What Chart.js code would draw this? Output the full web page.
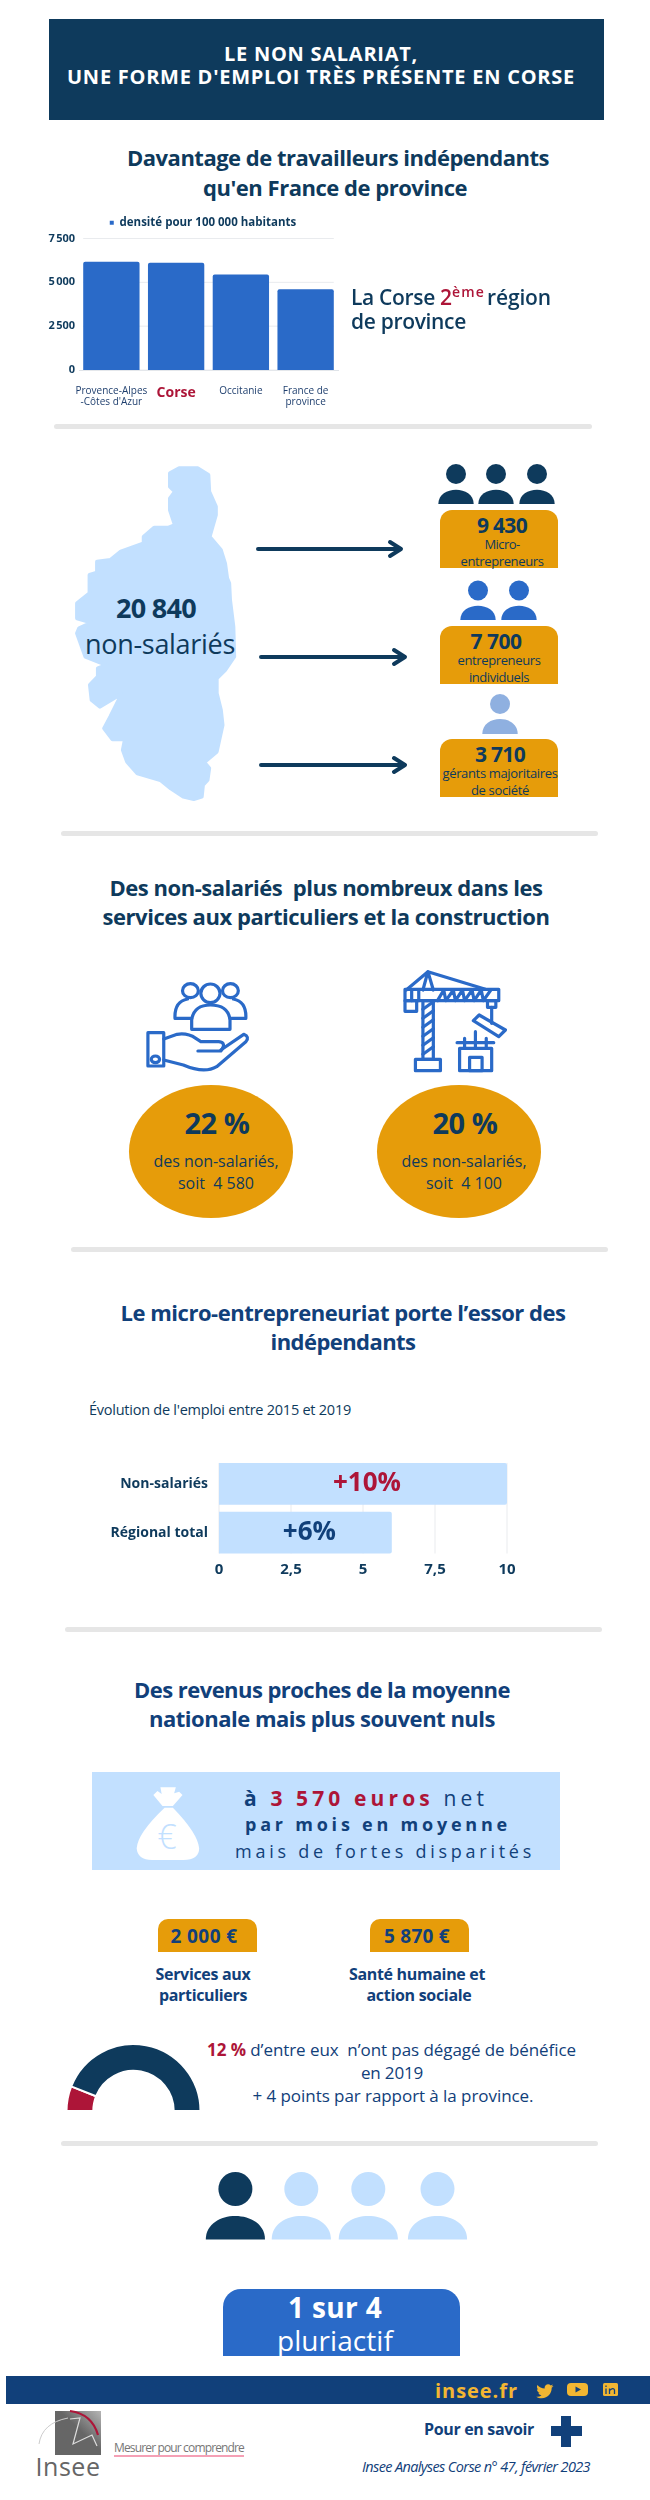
<!DOCTYPE html>
<html lang="fr">
<head>
<meta charset="utf-8">
<title>Le non salariat en Corse</title>
<script src="https://cdn.jsdelivr.net/npm/chart.js@4"></script>
<style>
    html, body { margin: 0; background: #fff; }
    #page { position: relative; width: 650px; height: 2500px; overflow: hidden; font-family: "Open Sans", sans-serif; }
    #page canvas, #shapes, .box, .txt { position: absolute; }
    #shapes { left: 0; top: 0; }
    .txt { white-space: pre; line-height: 1; }
</style>
</head>
<body>
<div id="page">
    <svg id="shapes" width="650" height="2500" viewBox="0 0 650 2500"></svg>
    <canvas id="chart-densite"></canvas>
    <canvas id="chart-evolution"></canvas>
    <canvas id="chart-benefice"></canvas>
</div>
<script>
// density chart
const densiteRegions = [["Provence-Alpes", "-Côtes d'Azur"], "Corse", "Occitanie", ["France de", "province"]];
const densiteValeurs = [6170, 6115, 5440, 4600];
const densiteTicks = [0, 2500, 5000, 7500];
const densiteTickLabels = ["0", "2\u202f500", "5\u202f000", "7\u202f500"];
const densiteLegende = "densité pour 100 000 habitants";

// employment chart
const evolutionCategories = ["Non-salariés", "Régional total"];
const evolutionValeurs = [10, 6];
const evolutionEtiquettes = ["+10%", "+6%"];
const evolutionTicks = [0, 2.5, 5, 7.5, 10];
const evolutionTickLabels = ["0", "2,5", "5", "7,5", "10"];

// half ring, no profit
const beneficeParts = [12, 88];

const NAVY = "#0e3a5c";
const BLUE = "#11407a";
const MID = "#2a6ac8";
const PALE = "#c2e0ff";
const ORANGE = "#e69c0a";
const RED = "#ad1538";
const GREY = "#e6e6e6";

const page = document.getElementById("page");
const shapes = document.getElementById("shapes");

// text centred on x (or left on x), letter spacing adjusted so it fills the measured width
function txt(html, x, y, size, weight, color, width, align) {
    let el = document.createElement("div");
    el.className = "txt";
    el.innerHTML = html;
    el.style.fontSize = size + "px";
    el.style.fontWeight = weight;
    el.style.color = color;
    page.appendChild(el);
    if (width) {
        let count = el.textContent.length;
        el.style.letterSpacing = ((width - el.getBoundingClientRect().width) / count) + "px";
    }
    el.style.left = x + "px";
    el.style.top = y + "px";
    el.style.transform = align == "left" ? "translateY(-50%)" : "translate(-50%,-50%)";
    return el;
}

function box(x, y, w, h, color, radius) {
    let el = document.createElement("div");
    el.className = "box";
    el.style.cssText = `left:${x}px;top:${y}px;width:${w}px;height:${h}px;background:${color};border-radius:${radius || "0"}`;
    page.insertBefore(el, shapes);
}

function person(cx, headY, r, top, bottom, half, color) {
    return `<circle cx="${cx}" cy="${headY}" r="${r}" fill="${color}"/>` +
        `<path d="M${cx - half} ${bottom} C${cx - half} ${top - 2} ${cx + half} ${top - 2} ${cx + half} ${bottom}Z" fill="${color}"/>`;
}

function arrow(x1, x2, y) {
    return `<path d="M${x1} ${y}H${x2}M${x2 - 11} ${y - 7}L${x2} ${y}L${x2 - 11} ${y + 7}" fill="none" stroke="${NAVY}" stroke-width="4" stroke-linecap="round" stroke-linejoin="round"/>`;
}

// header
box(49, 19, 555, 101, NAVY);
txt("LE NON SALARIAT,", 321, 54, 20, 700, "#fff", 194);
txt("UNE FORME D'EMPLOI TRÈS PRÉSENTE EN CORSE", 321, 77, 20, 700, "#fff", 508);

// section titles and dividers
txt("Davantage de travailleurs indépendants", 338, 157, 22, 700, NAVY, 422);
txt("qu'en France de province", 335, 187, 22, 700, NAVY, 264);
txt("La Corse", 351, 297, 21, 600, NAVY, 84, "left");
txt("2", 440, 297, 21, 600, RED, 0, "left");
txt("ème", 452, 292, 14, 600, RED, 33, "left");
txt("région", 487, 297, 21, 600, NAVY, 64, "left");
txt("de province", 351, 321, 21, 600, NAVY, 115, "left");
box(54, 424, 538, 5, GREY, "3px");

// corsica block
txt("20 840", 156, 607, 27, 700, NAVY, 80);
txt("non-salariés", 160, 643, 27, 400, NAVY, 150);
box(440, 510, 118, 58, ORANGE, "12px 12px 0 0");
box(440, 626, 118, 58, ORANGE, "12px 12px 0 0");
box(440, 739, 118, 58, ORANGE, "12px 12px 0 0");
txt("9 430", 502, 525, 21, 700, NAVY, 50);
txt("Micro-", 502, 544, 13, 400, NAVY, 35);
txt("entrepreneurs", 502, 561, 13, 400, NAVY, 83);
txt("7 700", 496, 641, 21, 700, NAVY, 51);
txt("entrepreneurs", 499, 660, 13, 400, NAVY, 83);
txt("individuels", 499, 677, 13, 400, NAVY, 60);
txt("3 710", 500, 754, 21, 700, NAVY, 50);
txt("gérants majoritaires", 500, 773, 13, 400, NAVY, 115);
txt("de société", 500, 790, 13, 400, NAVY, 58);
box(61, 831, 537, 5, GREY, "3px");

// sectors
txt("Des non-salariés  plus nombreux dans les", 326, 887, 22, 700, NAVY, 433);
txt("services aux particuliers et la construction", 326, 916, 22, 700, NAVY, 447);
box(129, 1085, 164, 133, ORANGE, "50%");
box(377, 1085, 164, 133, ORANGE, "50%");
txt("22 %", 217, 1122, 29, 700, NAVY, 65);
txt("des non-salariés,", 216, 1161, 16, 400, NAVY, 125);
txt("soit  4 580", 216, 1183, 16, 400, NAVY, 76);
txt("20 %", 465, 1122, 29, 700, NAVY, 65);
txt("des non-salariés,", 464, 1161, 16, 400, NAVY, 125);
txt("soit  4 100", 464, 1183, 16, 400, NAVY, 76);
box(71, 1247, 537, 5, GREY, "3px");

// micro-entrepreneurs
txt("Le micro-entrepreneuriat porte l’essor des", 343, 1312, 22, 700, BLUE, 445);
txt("indépendants", 343, 1341, 22, 700, BLUE, 145);
txt("Évolution de l'emploi entre 2015 et 2019", 89, 1410, 14.5, 400, NAVY, 262, "left");
box(65, 1627, 537, 5, GREY, "3px");

// income
txt("Des revenus proches de la moyenne", 322, 1689, 22, 700, BLUE, 376);
txt("nationale mais plus souvent nuls", 322, 1718, 22, 700, BLUE, 346);
box(92, 1772, 468, 98, PALE);
txt(`à <span style="color:${RED}">3 570 euros</span> <span style="font-weight:400">net</span>`, 244, 1798, 21, 700, BLUE, 244, "left");
txt("par mois en moyenne", 245, 1824, 18, 700, BLUE, 266, "left");
txt("mais de fortes disparités", 235, 1851, 18, 400, BLUE, 300, "left");
txt("€", 167, 1836, 34, 300, PALE);
box(158, 1919, 99, 33, ORANGE, "10px 10px 0 0");
box(370, 1919, 99, 33, ORANGE, "10px 10px 0 0");
txt("2 000 €", 204, 1936, 19, 700, BLUE, 67);
txt("5 870 €", 417, 1936, 19, 700, BLUE, 66);
txt("Services aux", 203, 1974, 16, 700, BLUE, 95);
txt("particuliers", 203, 1995, 16, 700, BLUE, 88);
txt("Santé humaine et", 417, 1974, 16, 700, BLUE, 136);
txt("action sociale", 419, 1995, 16, 700, BLUE, 105);
txt(`<span style="color:${RED};font-weight:700">12 %</span> d’entre eux  n’ont pas dégagé de bénéfice`, 207, 2049, 17, 400, BLUE, 369, "left");
txt("en 2019", 392, 2072, 17, 400, BLUE, 62);
txt("+ 4 points par rapport à la province.", 393, 2095, 17, 400, BLUE, 281);
box(61, 2141, 537, 5, GREY, "3px");

// pluriactive
box(223, 2289, 237, 67, MID, "18px 18px 0 0");
txt("1 sur 4", 335, 2307, 28, 700, "#fff", 94);
txt("pluriactif", 335, 2340, 28, 400, "#fff", 116);

// footer
box(6, 2376, 644, 28, BLUE);
txt("insee.fr", 435, 2391, 20, 700, "#f2b632", 83, "left");
txt("Insee", 68, 2466, 25, 400, "#666", 65);
txt("Mesurer pour comprendre", 114, 2448, 12, 400, "#777", 130, "left");
box(114, 2455, 130, 1.5, "#f5a0b5");
txt("Pour en savoir", 424, 2429, 16, 700, BLUE, 110, "left");
box(561, 2416, 10, 31, BLUE);
box(551, 2426, 31, 10, BLUE);
txt("Insee Analyses Corse n° 47, février 2023", 362, 2467, 14.5, 400, BLUE, 244, "left").style.fontStyle = "italic";

// illustrations, first group of shapes in zoom coordinates (x / 2.4, y / 3)
const scaled = (off, body) => `<g transform="translate(0 ${off}) scale(.41667 .33333)">${body}</g>`;
const line = `fill="none" stroke="${MID}" stroke-width="3.2" vector-effect="non-scaling-stroke" stroke-linejoin="round" stroke-linecap="round"`;
const vline = `vector-effect="non-scaling-stroke"`;
let svg = "";

svg += scaled(430, `<polygon fill="${PALE}" stroke="${PALE}" stroke-width="4" stroke-linejoin="round" ${vline} points="430,115 475,115 500,135 502,185 518,230 518,255 503,320 530,360 540,400 545,445 550,460 552,510 560,590 562,680 540,720 520,745 520,790 530,840 534,885 520,965 490,997 502,1015 498,1050 487,1065 484,1100 465,1107 440,1100 410,1075 385,1050 330,1030 305,995 295,960 300,928 270,928 250,895 265,860 285,810 290,792 240,830 220,810 216,765 235,740 235,715 255,705 205,680 185,610 190,595 220,578 185,565 185,520 215,490 215,435 233,428 233,395 265,390 290,365 345,340 345,320 370,293 405,293 420,285 408,240 408,205 420,185 408,170 408,130"/>`);
svg += arrow(258, 401, 549) + arrow(261, 405, 657) + arrow(261, 405, 765);
[456, 496, 537].forEach(x => svg += person(x, 474, 10, 487, 504, 17.7, NAVY));
[478, 519].forEach(x => svg += person(x, 590.5, 10, 603, 620, 17.7, MID));
svg += person(500, 704, 10, 716, 734, 17.7, "#8fb0e0");
[235.4, 301.3, 368.3, 437.5].forEach((x, i) => svg += person(x, 2189, 17, 2210, 2239.5, 29.6, i == 0 ? NAVY : PALE));

// hand and people
svg += scaled(850, `<g ${line}>
    <rect x="355" y="548" width="38" height="100" ${vline}/>
    <ellipse cx="373" cy="628" rx="10" ry="10" ${vline}/>
    <path ${vline} d="M393 567L425 553Q450 548 470 565L482 575H525Q545 578 530 603H475"/>
    <path ${vline} d="M393 630L440 645Q490 672 520 650L590 575Q600 560 585 553L530 600"/>
    <ellipse cx="505" cy="430" rx="23" ry="28" ${vline}/>
    <ellipse cx="457" cy="422" rx="19" ry="21" ${vline}/>
    <ellipse cx="553" cy="422" rx="19" ry="21" ${vline}/>
    <path ${vline} d="M460 538V510Q465 465 505 465Q548 465 552 510V538Z"/>
    <path ${vline} d="M460 505H420Q418 455 450 447M552 505H590Q592 455 560 447"/>
</g>`);
// crane
svg += scaled(850, `<g ${line}>
    <path ${vline} d="M975 420L1027 365L1165 418M1027 365L1040 420M1027 365L1015 420"/>
    <rect x="972" y="418" width="225" height="34" ${vline}/>
    <rect x="1015" y="452" width="25" height="176" ${vline}/>
    <rect x="997" y="628" width="60" height="34" ${vline}/>
    <rect x="972" y="452" width="28" height="32" ${vline}/>
    <path ${vline} d="M988 420V452M1005 420V452M1050 452L1065 420L1070 452L1088 420L1093 452L1110 420L1115 452L1133 420L1138 452L1155 420L1160 452L1178 420"/>
    <path ${vline} d="M1015 478L1040 455M1015 505L1040 482M1015 532L1040 509M1015 559L1040 536M1015 586L1040 563M1015 613L1040 590"/>
    <rect x="1170" y="452" width="20" height="20" ${vline}/>
    <path ${vline} d="M1180 472V520"/>
    <path ${vline} d="M1150 495L1213 540L1197 560L1136 512Z"/>
    <rect x="1103" y="595" width="77" height="67" ${vline}/>
    <rect x="1127" y="622" width="30" height="40" ${vline}/>
    <path ${vline} d="M1097 578H1185M1115 565V595M1141 545V595M1167 565V595"/>
</g>`);
// money bag
svg += scaled(1660, `<path fill="#fff" d="M395 443Q330 520 328 565Q330 600 365 600H440Q478 600 478 565Q475 520 415 443ZM385 382H422L418 400L430 395L438 405L415 438H390L368 405L378 393L388 402Z"/>`);
// social icons
svg += `<g fill="#f2b632">
    <path transform="translate(535 2381) scale(.82)" d="M22.46 6c-.77.35-1.6.58-2.46.69.88-.53 1.56-1.37 1.88-2.38-.83.5-1.75.85-2.72 1.05C18.37 4.5 17.26 4 16 4c-2.35 0-4.27 1.92-4.27 4.29 0 .34.04.67.11.98C8.28 9.09 5.11 7.38 3 4.79c-.37.63-.58 1.37-.58 2.15 0 1.49.75 2.81 1.91 3.56-.71 0-1.37-.2-1.95-.5v.03c0 2.08 1.48 3.82 3.44 4.21a4.22 4.22 0 0 1-1.93.07 4.28 4.28 0 0 0 4 2.98 8.521 8.521 0 0 1-5.33 1.84c-.34 0-.68-.02-1.02-.06C3.44 20.29 5.7 21 8.12 21 16 21 20.33 14.46 20.33 8.79c0-.19 0-.37-.01-.56.84-.6 1.56-1.36 2.14-2.23z"/>
    <rect x="567" y="2383" width="21" height="13" rx="4"/>
    <rect x="603" y="2383" width="15" height="13" rx="1.5"/>
</g>
<path d="M575.5 2386.5L581 2389.5L575.5 2392.5Z" fill="${BLUE}"/>
<path d="M606 2388.5V2394M609.5 2394V2388.5M609.5 2390.5Q613.5 2387 614.5 2390V2394M606 2385.5V2387" stroke="${BLUE}" stroke-width="1.3" fill="none"/>`;
// insee logo
svg += `<defs><linearGradient id="logo" x1="1" y1="0" x2="0" y2="1"><stop offset="0" stop-color="#b5b5b5"/><stop offset=".45" stop-color="#666"/><stop offset="1" stop-color="#666"/></linearGradient></defs>
<rect x="55" y="2411" width="46" height="44" fill="url(#logo)"/>
<path d="M70 2419L80 2418L73 2444L92 2435L97 2446" fill="none" stroke="#ddd" stroke-width="1.2"/>
<path d="M39 2444Q42 2423 68 2418" fill="none" stroke="#ccc" stroke-width="1"/>
<path d="M70 2411Q92 2414 98 2435" fill="none" stroke="${RED}" stroke-width="2.2"/>`;
shapes.innerHTML = svg;

// grid lines stop at the outer bars, the way they do in the reference
const trimmedGrid = {
    id: "trimmedGrid",
    beforeDatasetsDraw(chart) {
        let ctx = chart.ctx;
        let bars = chart.getDatasetMeta(0).data;
        let horizontal = chart.options.indexAxis == "y";
        ctx.save();
        ctx.strokeStyle = "#e9ebee";
        ctx.lineWidth = 1;
        ctx.beginPath();
        if (horizontal) {
            let first = bars[0].y - bars[0].height / 2;
            let last = bars[bars.length - 1].y + bars[0].height / 2;
            chart.scales.x.ticks.forEach(t => {
                let x = chart.scales.x.getPixelForValue(t.value);
                ctx.moveTo(x, first);
                ctx.lineTo(x, last);
            });
        }
        else {
            let first = bars[0].x - bars[0].width / 2;
            let last = bars[bars.length - 1].x + bars[0].width / 2;
            chart.scales.y.ticks.forEach(t => {
                let y = chart.scales.y.getPixelForValue(t.value);
                ctx.moveTo(first, y);
                ctx.lineTo(last, y);
            });
        }
        ctx.stroke();
        ctx.restore();
    }
};

// value written inside each bar
const barValues = {
    id: "barValues",
    afterDatasetsDraw(chart) {
        let ctx = chart.ctx;
        ctx.save();
        ctx.textAlign = "center";
        ctx.textBaseline = "middle";
        ctx.font = "700 26px 'Open Sans'";
        chart.getDatasetMeta(0).data.forEach((bar, i) => {
            ctx.fillStyle = i == 0 ? RED : BLUE;
            ctx.fillText(evolutionEtiquettes[i], (bar.base + bar.x) / 2 + 4, bar.y);
        });
        ctx.restore();
    }
};

// the legend sits over the bars, not over the whole canvas
const legendShift = {
    id: "legendShift",
    afterLayout(chart) {
        chart.legend.left += 24;
        chart.legend.right += 24;
    }
};

function place(id, x, y, w, h) {
    let c = document.getElementById(id);
    c.width = w;
    c.height = h;
    c.style.left = x + "px";
    c.style.top = y + "px";
    c.style.width = w + "px";
    c.style.height = h + "px";
    return c;
}

new Chart(place("chart-densite", 20, 213, 366, 200), {
    type: "bar",
    plugins: [trimmedGrid, legendShift],
    data: {
        labels: densiteRegions,
        datasets: [{
            label: densiteLegende,
            data: densiteValeurs,
            backgroundColor: MID,
            barPercentage: 0.87,
            categoryPercentage: 1,
            borderRadius: { topLeft: 2, topRight: 2 },
            borderSkipped: "bottom",
        }]
    },
    options: {
        responsive: false,
        animation: false,
        layout: { padding: { right: 48 } },
        plugins: {
            tooltip: { enabled: false },
            legend: {
                labels: {
                    boxWidth: 4,
                    boxHeight: 4,
                    padding: 4,
                    color: NAVY,
                    font: { family: "Open Sans", size: 11.5, weight: "700" },
                }
            }
        },
        scales: {
            x: {
                grid: { display: false, drawTicks: false },
                border: { color: "#dfe3e8" },
                afterFit: s => { s.height = 43; },
                ticks: {
                    padding: 15,
                    maxRotation: 0,
                    autoSkip: false,
                    color: ctx => ctx.index == 1 ? RED : "#1f3f6e",
                    font: ctx => ctx.index == 1
                        ? { family: "Open Sans", size: 14, weight: "700" }
                        : { family: "Open Sans", size: 10, lineHeight: 1.15 },
                }
            },
            y: {
                min: 0,
                max: 7500,
                grid: { display: false, drawTicks: false },
                border: { display: false },
                afterFit: s => { s.width = 59; },
                afterBuildTicks: s => { s.ticks = densiteTicks.map(v => ({ value: v })); },
                ticks: {
                    padding: 4,
                    color: NAVY,
                    font: { family: "Open Sans", size: 11, weight: "700" },
                    callback: (v, i) => densiteTickLabels[i],
                }
            }
        }
    }
});

new Chart(place("chart-evolution", 89, 1440, 440, 145), {
    type: "bar",
    plugins: [trimmedGrid, barValues],
    data: {
        labels: evolutionCategories,
        datasets: [{
            data: evolutionValeurs,
            backgroundColor: PALE,
            barPercentage: 0.856,
            categoryPercentage: 1,
            borderRadius: { topRight: 2, bottomRight: 2 },
            borderSkipped: "left",
        }]
    },
    options: {
        indexAxis: "y",
        responsive: false,
        animation: false,
        layout: { padding: { top: 8, right: 22 } },
        plugins: { legend: { display: false }, tooltip: { enabled: false } },
        scales: {
            x: {
                min: 0,
                max: 10,
                grid: { display: false, drawTicks: false },
                border: { display: false },
                afterFit: s => { s.height = 28; },
                afterBuildTicks: s => { s.ticks = evolutionTicks.map(v => ({ value: v })); },
                ticks: {
                    padding: 4,
                    color: NAVY,
                    font: { family: "Open Sans", size: 15, weight: "700" },
                    callback: (v, i) => evolutionTickLabels[i],
                }
            },
            y: {
                grid: { display: false, drawTicks: false },
                border: { display: false },
                afterFit: s => { s.width = 130; },
                ticks: {
                    padding: 11,
                    color: NAVY,
                    font: { family: "Open Sans", size: 14, weight: "700" },
                }
            }
        }
    }
});

new Chart(place("chart-benefice", 65, 2043, 137, 69), {
    type: "doughnut",
    data: {
        datasets: [{
            data: beneficeParts,
            backgroundColor: [RED, NAVY],
            borderColor: "#fff",
            borderWidth: 2,
        }]
    },
    options: {
        responsive: false,
        animation: false,
        rotation: -90,
        circumference: 180,
        cutout: "60%",
        plugins: { legend: { display: false }, tooltip: { enabled: false } },
    }
});
</script>
</body>
</html>
